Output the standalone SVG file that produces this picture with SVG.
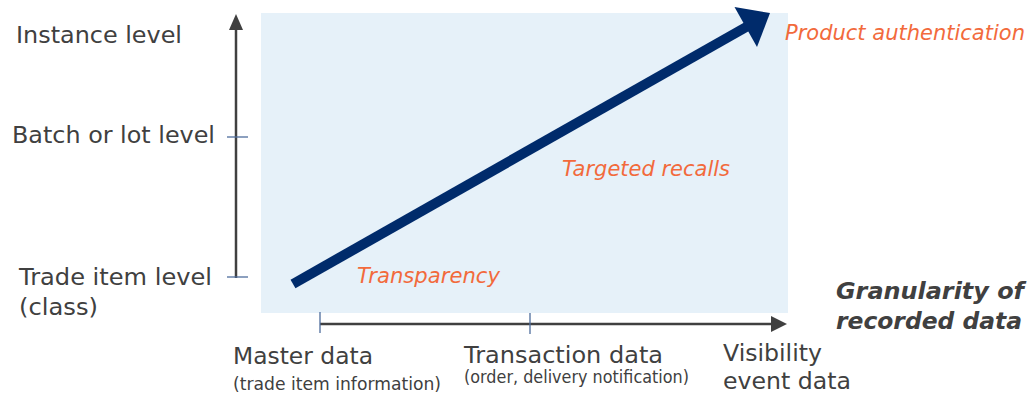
<svg xmlns="http://www.w3.org/2000/svg" width="1028" height="397" viewBox="0 0 1028 397">
  <style>
    .lbl { font-family: "DejaVu Sans", Verdana, sans-serif; fill: #404040; font-size: 23.5px; }
    .small { font-size: 17px; }
    .use { font-family: "DejaVu Sans", Verdana, sans-serif; fill: #F26A3C; font-size: 20.5px; font-style: italic; }
    .title { font-family: "DejaVu Sans", Verdana, sans-serif; fill: #404040; font-size: 23px; font-style: italic; font-weight: bold; }
    .axis { stroke: #404040; stroke-width: 2.5; fill: none; }
    .tick { stroke: #4E6C9C; stroke-width: 1.3; }
  </style>
  <rect id="panel" x="261" y="13" width="527" height="300" fill="#E6F1F9"/>
  <g id="connectors">
    <line class="axis" x1="236" y1="278" x2="236" y2="27"/>
    <polygon points="236,14 229,30 243,30" fill="#404040"/>
    <line class="tick" x1="227" y1="137" x2="248" y2="137"/>
    <line class="tick" x1="227" y1="277" x2="248" y2="277"/>
    <line class="axis" x1="320" y1="324" x2="773" y2="324"/>
    <polygon points="787,324 771,316 771,332" fill="#404040"/>
    <line class="tick" x1="320" y1="312" x2="320" y2="333"/>
    <line class="tick" x1="530" y1="313" x2="530" y2="334"/>
    <line x1="293" y1="284" x2="748" y2="26" stroke="#002B6B" stroke-width="10"/>
    <polygon points="770,13 757,47 734.5,7" fill="#002B6B"/>
  </g>
  <g id="y-levels">
    <text class="lbl" x="16" y="43" textLength="166" lengthAdjust="spacingAndGlyphs">Instance level</text>
    <text class="lbl" x="12" y="143" textLength="203" lengthAdjust="spacingAndGlyphs">Batch or lot level</text>
    <text class="lbl" x="19" y="285" textLength="193" lengthAdjust="spacingAndGlyphs">Trade item level</text>
    <text class="lbl" x="19" y="315" textLength="79" lengthAdjust="spacingAndGlyphs">(class)</text>
  </g>
  <g id="x-levels">
    <text class="lbl" x="233" y="364" textLength="140" lengthAdjust="spacingAndGlyphs">Master data</text>
    <text class="lbl small" x="233" y="390" textLength="208" lengthAdjust="spacingAndGlyphs">(trade item information)</text>
    <text class="lbl" x="464" y="363" textLength="199" lengthAdjust="spacingAndGlyphs">Transaction data</text>
    <text class="lbl small" x="464" y="383" textLength="225" lengthAdjust="spacingAndGlyphs">(order, delivery notification)</text>
    <text class="lbl" x="723" y="361" textLength="99" lengthAdjust="spacingAndGlyphs">Visibility</text>
    <text class="lbl" x="723" y="389" textLength="128" lengthAdjust="spacingAndGlyphs">event data</text>
  </g>
  <g id="axis-title">
    <text class="title" x="836" y="299" textLength="188" lengthAdjust="spacingAndGlyphs">Granularity of</text>
    <text class="title" x="836" y="329" textLength="186" lengthAdjust="spacingAndGlyphs">recorded data</text>
  </g>
  <g id="use-cases">
    <text class="use" x="785" y="40" textLength="240" lengthAdjust="spacingAndGlyphs">Product authentication</text>
    <text class="use" x="562" y="176" textLength="168" lengthAdjust="spacingAndGlyphs">Targeted recalls</text>
    <text class="use" x="357" y="283" textLength="143" lengthAdjust="spacingAndGlyphs">Transparency</text>
  </g>
</svg>
